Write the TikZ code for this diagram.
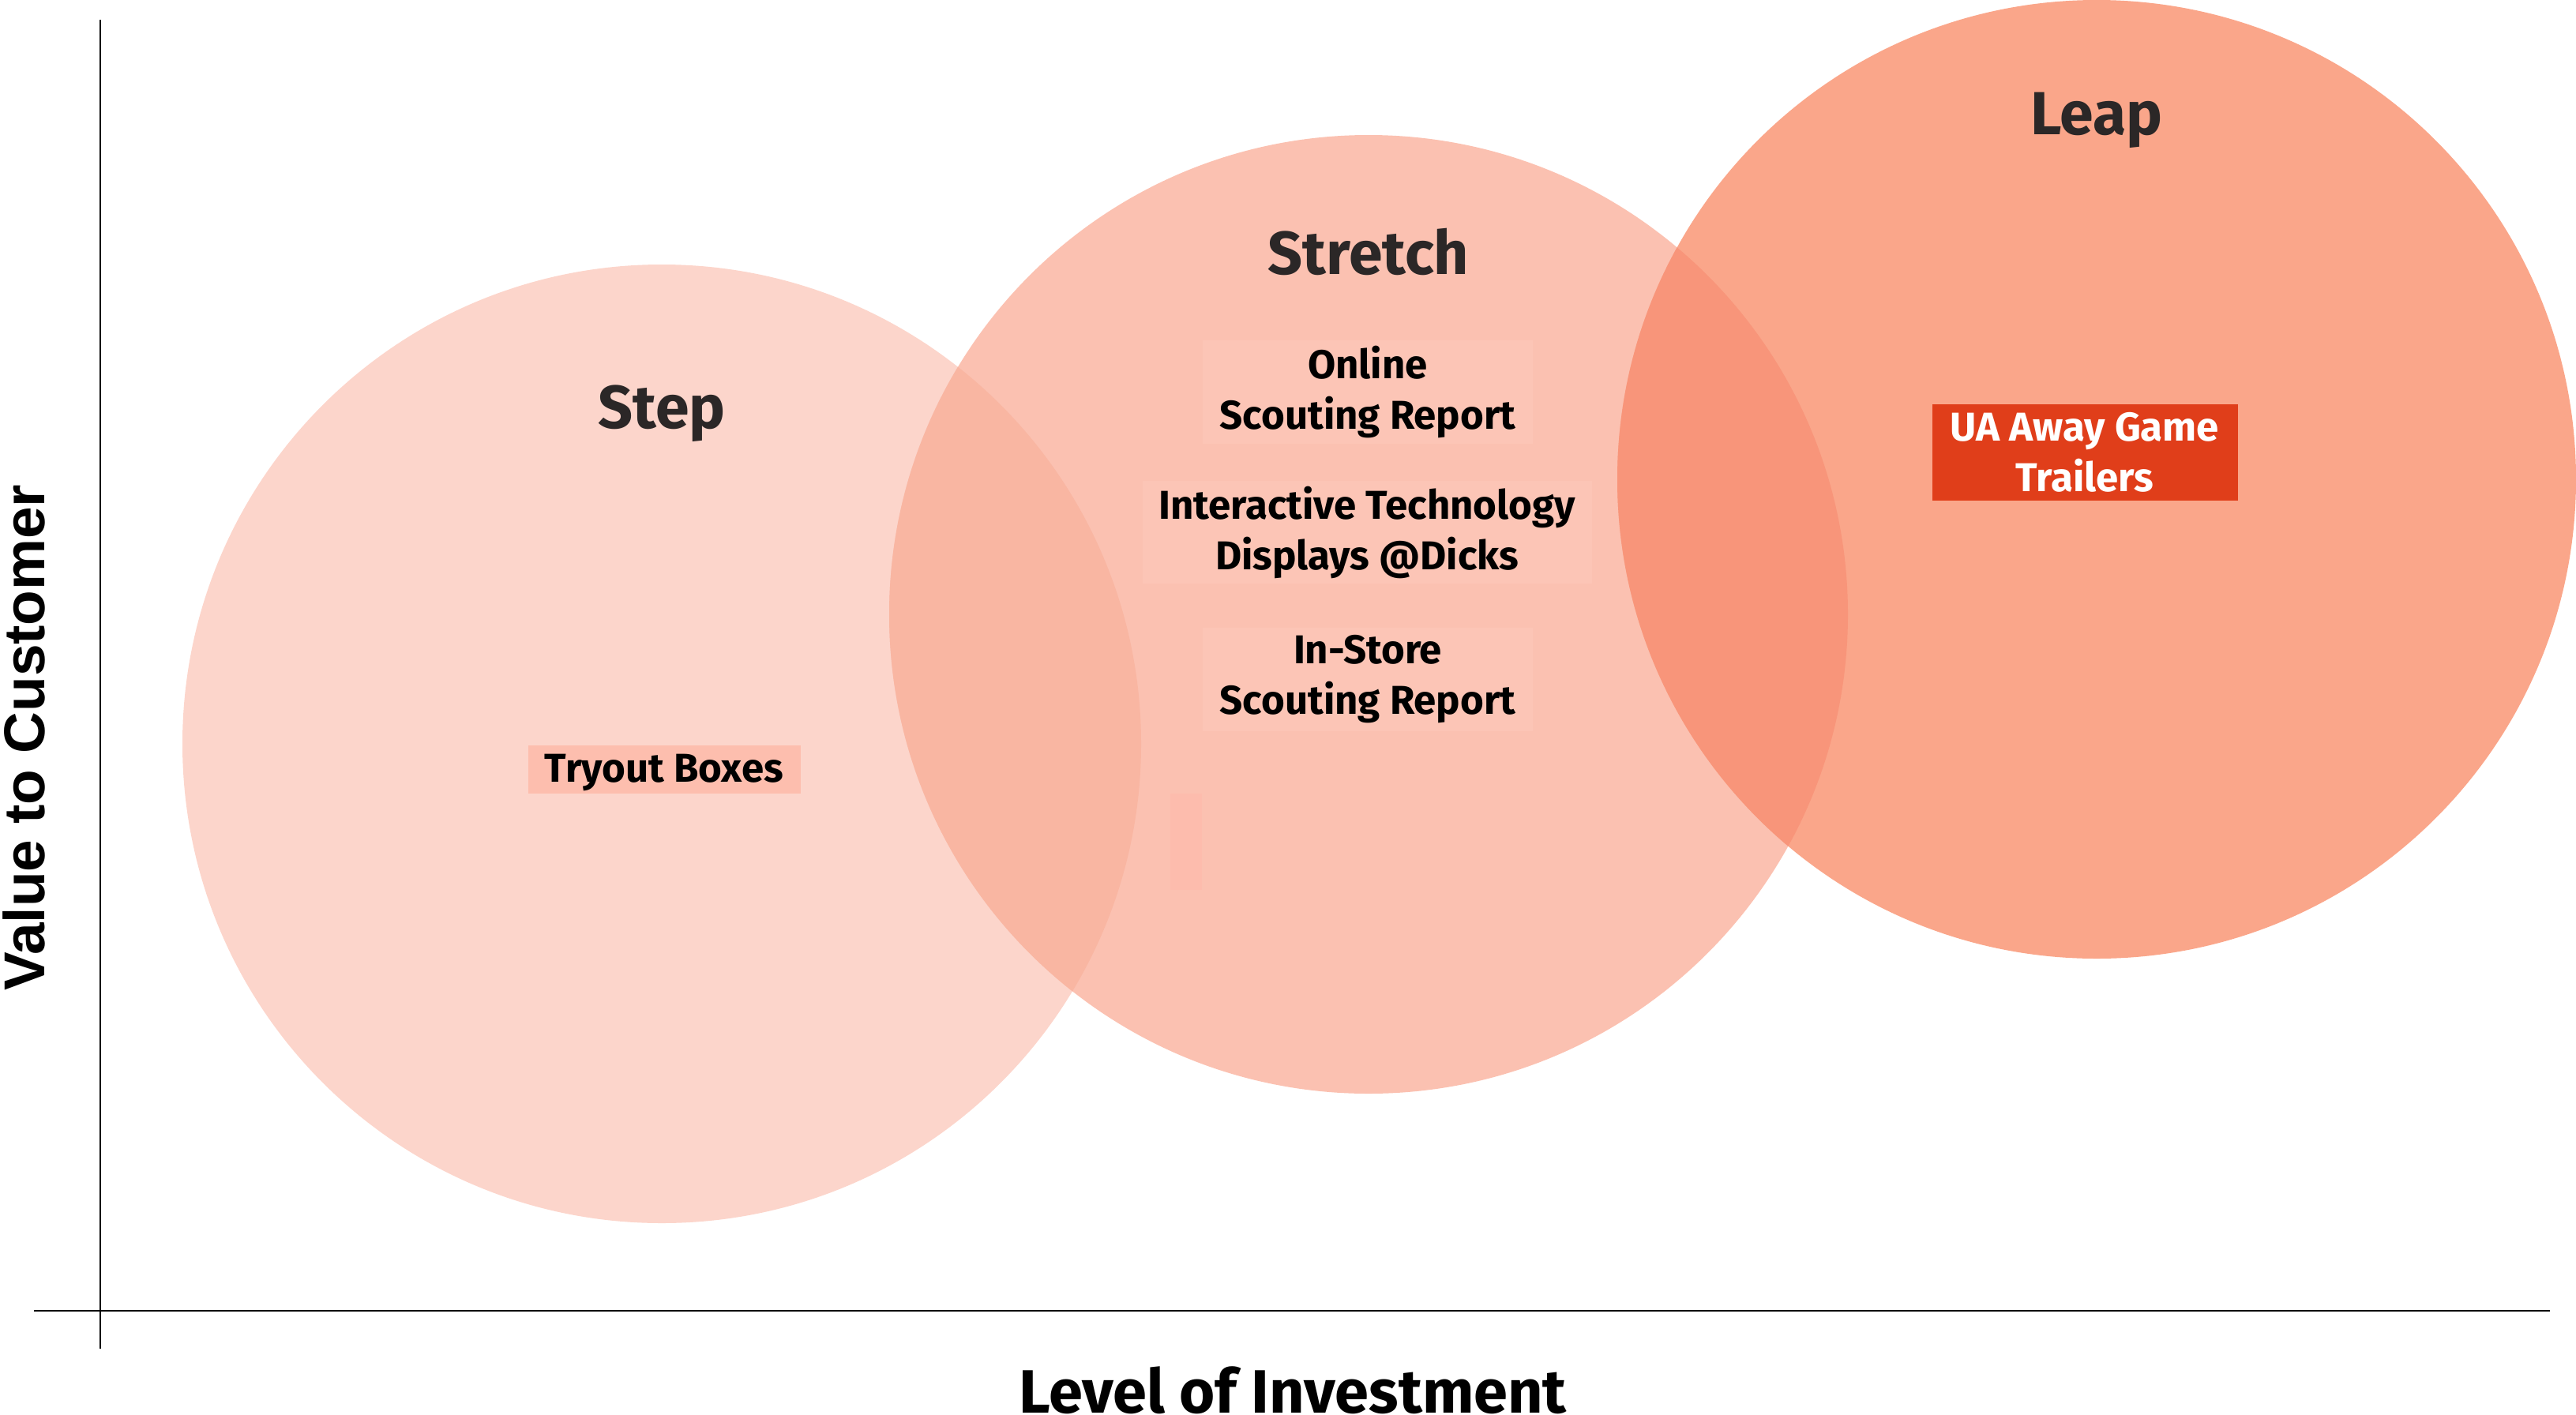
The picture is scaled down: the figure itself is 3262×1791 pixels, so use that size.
\documentclass[tikz,border=0pt]{standalone}
\usepackage{fontspec}
\setmainfont{Fira Sans}
\newfontfamily\yfont{Liberation Sans}
\definecolor{stepc}{HTML}{FCD5CB}
\definecolor{stretchc}{HTML}{FBC1B1}
\definecolor{leapc}{HTML}{FAA68A}
\definecolor{stepstretch}{HTML}{F9B6A2}
\definecolor{stretchleap}{HTML}{F8957A}
\definecolor{tagstep}{HTML}{FDBEAE}
\definecolor{tagstretch}{HTML}{FCC5B6}
\definecolor{tagempty}{HTML}{FDBCAD}
\definecolor{uared}{HTML}{E03E1A}
\definecolor{titlec}{HTML}{2B2727}
\tikzset{
  zonetitle/.style={font=\bfseries\fontsize{77}{90}\selectfont, text=titlec, inner sep=0pt, anchor=base},
  tagbox/.style={font=\bfseries\fontsize{51}{64}\selectfont, text=black, align=center, inner sep=0pt},
  axisline/.style={line width=2.5pt, black},
}
\begin{document}
\begin{tikzpicture}[x=1pt,y=-1pt]
\useasboundingbox (0,0) rectangle (3262,1791);
% circles
\fill[stepc] (838,942) circle[radius=607pt];
\fill[stretchc] (1733,778) circle[radius=607pt];
\fill[leapc] (2655,607) circle[radius=607pt];
\begin{scope}
  \clip (838,942) circle[radius=607pt];
  \fill[stepstretch] (1733,778) circle[radius=607pt];
\end{scope}
\begin{scope}
  \clip (2655,607) circle[radius=607pt];
  \fill[stretchleap] (1733,778) circle[radius=607pt];
\end{scope}
% axes
\coordinate (ytop) at (127,25);
\coordinate (ybot) at (127,1708);
\coordinate (xleft) at (43,1660);
\coordinate (xright) at (3229,1660);
\draw[axisline] (ytop) -- (ybot);
\draw[axisline] (xleft) -- (xright);
% titles
\node[zonetitle] (steptitle) at (838,542) {Step};
\node[zonetitle] (stretchtitle) at (1733,347) {Stretch};
\node[zonetitle] (leaptitle) at (2655,170) {Leap};
% tags
\node[tagbox, fill=tagstretch, minimum width=418pt, minimum height=131pt] (online) at (1732,496) {Online\\Scouting Report};
\node[tagbox, fill=tagstretch, minimum width=569pt, minimum height=130pt] (interactive) at (1731,674) {Interactive Technology\\Displays @Dicks};
\node[tagbox, fill=tagstretch, minimum width=418pt, minimum height=131pt] (instore) at (1732,860) {In-Store\\Scouting Report};
\node[tagbox, fill=tagstep, minimum width=345pt, minimum height=61pt] (tryout) at (841,974) {};
\node[tagbox, anchor=base] (tryouttext) at (841,990) {Tryout Boxes};
\node[tagbox, fill=tagempty, minimum width=40pt, minimum height=122pt] (empty) at (1502,1066) {};
\node[tagbox, fill=uared, text=white, minimum width=387pt, minimum height=122pt] (ua) at (2640,573) {UA Away Game\\Trailers};
% axis labels
\node[font=\bfseries\fontsize{77.5}{90}\selectfont, anchor=base, inner sep=0pt] (xlabel) at (1637,1789) {Level of Investment};
\node[font=\yfont\bfseries\fontsize{73}{90}\selectfont, rotate=90, anchor=base, inner sep=0pt] (ylabel) at (56,934) {Value to Customer};
\end{tikzpicture}
\end{document}
